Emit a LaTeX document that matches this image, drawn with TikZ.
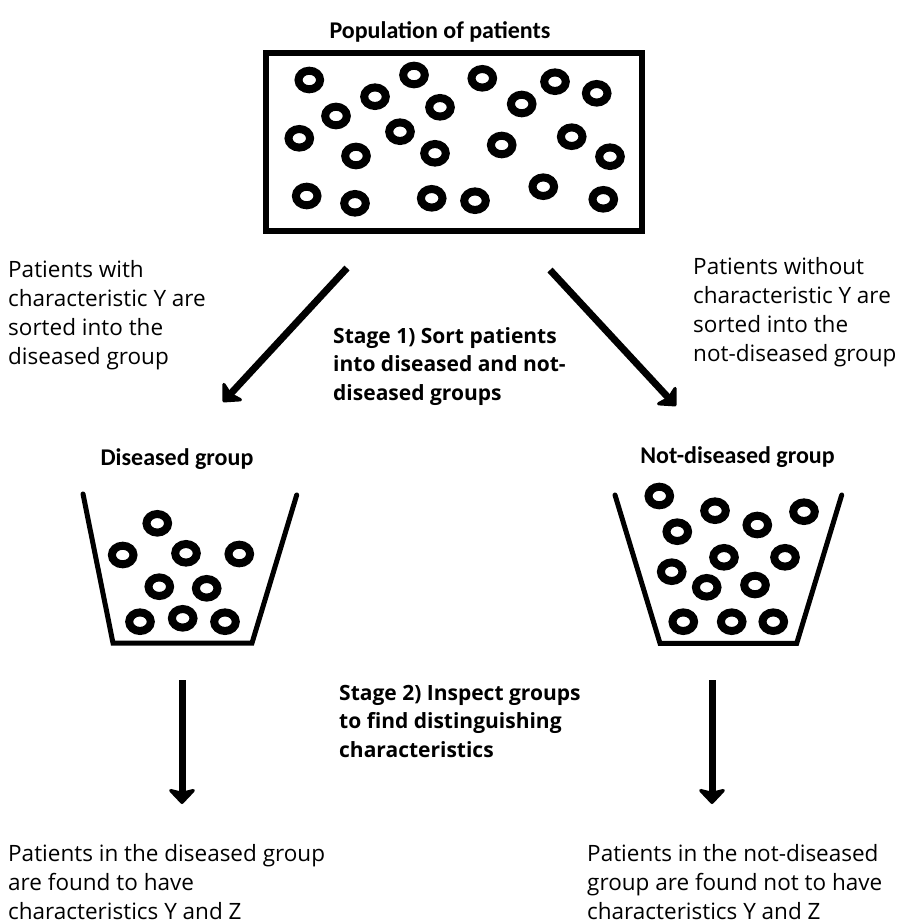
\documentclass[tikz,border=0pt]{standalone}
\usepackage{fontspec}
\setmainfont{Open Sans}
\newfontfamily\titlefont{Carlito}
\usetikzlibrary{arrows.meta}
\begin{document}
\begin{tikzpicture}[x=1pt,y=-1pt,
  ring/.style={line width=8pt},
  frame/.style={line width=6pt},
  wall/.style={line width=5pt, line cap=round, line join=miter},
  bigarrow/.style={line width=7pt, -{Stealth[length=17pt,width=32pt,inset=4pt,round]}},
  body/.style={font=\fontsize{22.5}{29}\selectfont, align=left, anchor=base west, inner sep=0pt},
  stage/.style={font=\fontsize{21}{28.7}\selectfont\bfseries, align=left, anchor=base west, inner sep=0pt},
  title/.style={font=\titlefont\fontsize{24}{28}\selectfont\bfseries, anchor=base, inner sep=0pt}
]
\useasboundingbox (0,0) rectangle (904,923);
\fill[white] (0,0) rectangle (904,923);

% population
\node[title] (poptitle) at (440,39) {Population of patients};
\draw[frame] (266,53.5) rectangle (641.5,230.5);
\foreach \x/\y in {309.3/80, 414/75, 482.3/78.3, 555/81.7, 596.7/93.3, 375/96.7, 440/107.3, 521.7/104,
  336/116, 299.3/138.3, 400/131.7, 571.7/136.7, 501.7/145, 356/156, 435/153.3, 610/156.7,
  306.7/196, 355/203.3, 431.7/198.3, 475/200.7, 543.3/186.7, 603.3/199.3}
  \draw[ring] (\x,\y) ellipse (10.8 and 9.3);

% arrows stage 1
\coordinate (a1s) at (347,268);
\coordinate (a1e) at (223,402);
\coordinate (a2s) at (550,270);
\coordinate (a2e) at (676,406);
\draw[bigarrow] (a1s) -- (a1e);
\draw[bigarrow] (a2s) -- (a2e);

% text blocks (anchor = baseline of last line)
\node[body] (ltext) at (8,364) {Patients with\\characteristic Y are\\sorted into the\\diseased group};
\node[body] (rtext) at (693,361.7) {Patients without\\characteristic Y are\\sorted into the\\not-diseased group};
\node[stage] (stage1) at (333,400.4) {Stage 1) Sort patients\\into diseased and not-\\diseased groups};

% buckets
\node[title] (dtitle) at (177,465) {Diseased group};
\node[title] (ntitle) at (737.5,463) {Not-diseased group};

\draw[wall] (83,494) -- (113,643) -- (252,643) -- (296.7,495);
\foreach \x/\y in {157.3/523.3, 122.7/555, 186/553.3, 239.3/554, 159.3/586.7, 206.7/588.3,
  140/621.7, 182.7/618.3, 225/621.7}
  \draw[ring] (\x,\y) ellipse (10.8 and 9.3);

\draw[wall] (615,495) -- (660,643.3) -- (796.7,643.3) -- (841.7,495);
\foreach \x/\y in {659.3/496, 715/510.7, 757.3/525, 804/511.7, 677.3/531.7, 724/557.3, 785/557.3,
  671.7/571.7, 706.7/587.3, 755/585, 683.3/621.7, 731.7/621.7, 773.3/621.7}
  \draw[ring] (\x,\y) ellipse (10.8 and 9.3);

% stage 2
\coordinate (b1s) at (182,680);
\coordinate (b1e) at (182,804);
\coordinate (b2s) at (712,680);
\coordinate (b2e) at (712,804);
\draw[bigarrow] (b1s) -- (b1e);
\draw[bigarrow] (b2s) -- (b2e);

\node[stage] (stage2) at (339,757.4) {Stage 2) Inspect groups\\to find distinguishing\\characteristics};

\node[body] (lres) at (8,919) {Patients in the diseased group\\are found to have\\characteristics Y and Z};
\node[body] (rres) at (587,919) {Patients in the not-diseased\\group are found not to have\\characteristics Y and Z};
\end{tikzpicture}
\end{document}
